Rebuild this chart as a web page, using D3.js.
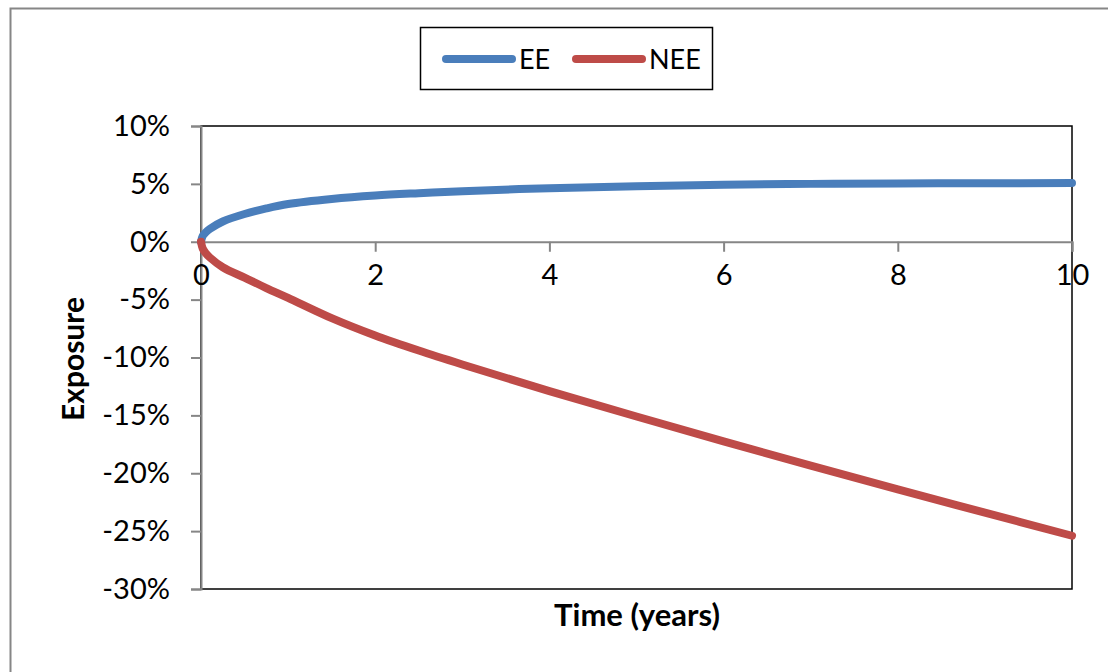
<!DOCTYPE html>
<html>
<head>
<meta charset="utf-8">
<script src="https://cdn.jsdelivr.net/npm/d3@7"></script>
<style>
  body { margin: 0; background: #fff; }
  svg text { font-family: Lato, "Open Sans", sans-serif; fill: #000; }
</style>
</head>
<body>
<div id="chart"></div>
<script>
// time points (years) and exposures
var times = [0, 0.02, 0.05, 0.1, 0.25, 0.5, 0.75, 1, 1.5, 2, 2.5, 3, 4, 5, 6, 7, 8, 9, 10];
var eeValues = [0, 0.005, 0.0078, 0.011, 0.0175, 0.024, 0.0288, 0.0326, 0.037, 0.040, 0.042, 0.0437, 0.0463, 0.048, 0.0492, 0.050, 0.0504, 0.0506, 0.0507];
var neeValues = [0, -0.006, -0.0095, -0.0135, -0.022, -0.031, -0.040, -0.0485, -0.066, -0.081, -0.094, -0.106, -0.129, -0.151, -0.1725, -0.1935, -0.214, -0.234, -0.254];
var xTicks = [0, 2, 4, 6, 8, 10];
var yTicks = [0.10, 0.05, 0, -0.05, -0.10, -0.15, -0.20, -0.25, -0.30];
var seriesNames = ["EE", "NEE"];
var seriesColors = ["#4a7ebb", "#be4b48"];

var svgWidth = 1108;
var svgHeight = 672;

var plot = { left: 201, right: 1072, top: 126, bottom: 589 };

var svg = d3.select("#chart")
  .append("svg")
  .attr("width", svgWidth)
  .attr("height", svgHeight);

// outer chart border (only top and left edges fall inside the window)
svg.append("rect")
  .attr("x", 10.5)
  .attr("y", 8.5)
  .attr("width", svgWidth + 20)
  .attr("height", svgHeight + 20)
  .attr("fill", "none")
  .attr("stroke", "#868686")
  .attr("stroke-width", 2);

var xScale = d3.scaleLinear().domain([0, 10]).range([plot.left, plot.right]);
var yScale = d3.scaleLinear().domain([-0.30, 0.10]).range([plot.bottom, plot.top]);

// plot area border
svg.append("rect")
  .attr("x", plot.left)
  .attr("y", plot.top)
  .attr("width", plot.right - plot.left)
  .attr("height", plot.bottom - plot.top)
  .attr("fill", "none")
  .attr("stroke", "#000")
  .attr("stroke-width", 1.5);

// y axis
var leftAxis = d3.axisLeft(yScale)
  .tickValues(yTicks)
  .tickSize(10)
  .tickPadding(21)
  .tickFormat(d3.format(".0%"));

var yAxis = svg.append("g")
  .attr("transform", `translate(${plot.left}, 0)`)
  .call(leftAxis);

yAxis.select(".domain").attr("stroke", "#868686").attr("stroke-width", 2);
yAxis.selectAll(".tick line").attr("stroke", "#868686").attr("stroke-width", 2);
yAxis.selectAll(".tick text")
  .attr("font-size", "29px")
  .text(d => d3.format(".0%")(d).replace("\u2212", "-"));

// x axis sits on the 0% line
var bottomAxis = d3.axisBottom(xScale)
  .tickValues(xTicks)
  .tickSize(10)
  .tickPadding(13)
  .tickFormat(d3.format("d"));

var xAxis = svg.append("g")
  .attr("transform", `translate(0, ${yScale(0)})`)
  .call(bottomAxis);

xAxis.select(".domain").attr("stroke", "#868686").attr("stroke-width", 2);
xAxis.selectAll(".tick line").attr("stroke", "#868686").attr("stroke-width", 2);
xAxis.selectAll(".tick text").attr("font-size", "29px");

// lines
var line = d3.line()
  .x((d, i) => xScale(times[i]))
  .y(d => yScale(d))
  .curve(d3.curveCatmullRom.alpha(0.5));

[eeValues, neeValues].forEach(function(values, i) {
  svg.append("path")
    .datum(values)
    .attr("d", line)
    .attr("fill", "none")
    .attr("stroke", seriesColors[i])
    .attr("stroke-width", 8)
    .attr("stroke-linecap", "round")
    .attr("stroke-linejoin", "round");
});

// axis titles
svg.append("text")
  .attr("x", 637)
  .attr("y", 626)
  .attr("text-anchor", "middle")
  .attr("font-size", "31px")
  .attr("font-weight", "bold")
  .text("Time (years)");

svg.append("text")
  .attr("transform", "translate(84, 359) rotate(-90)")
  .attr("text-anchor", "middle")
  .attr("font-size", "30px")
  .attr("font-weight", "bold")
  .text("Exposure");

// legend
var legend = svg.append("g");

legend.append("rect")
  .attr("x", 420.5)
  .attr("y", 27.5)
  .attr("width", 292)
  .attr("height", 62)
  .attr("fill", "#fff")
  .attr("stroke", "#000")
  .attr("stroke-width", 1.5);

var legendX = [446, 576];
seriesNames.forEach(function(name, i) {
  legend.append("line")
    .attr("x1", legendX[i])
    .attr("x2", legendX[i] + 66)
    .attr("y1", 59)
    .attr("y2", 59)
    .attr("stroke", seriesColors[i])
    .attr("stroke-width", 8)
    .attr("stroke-linecap", "round");
  legend.append("text")
    .attr("x", legendX[i] + 73)
    .attr("y", 69)
    .attr("font-size", "27px")
    .text(name);
});
</script>
</body>
</html>
